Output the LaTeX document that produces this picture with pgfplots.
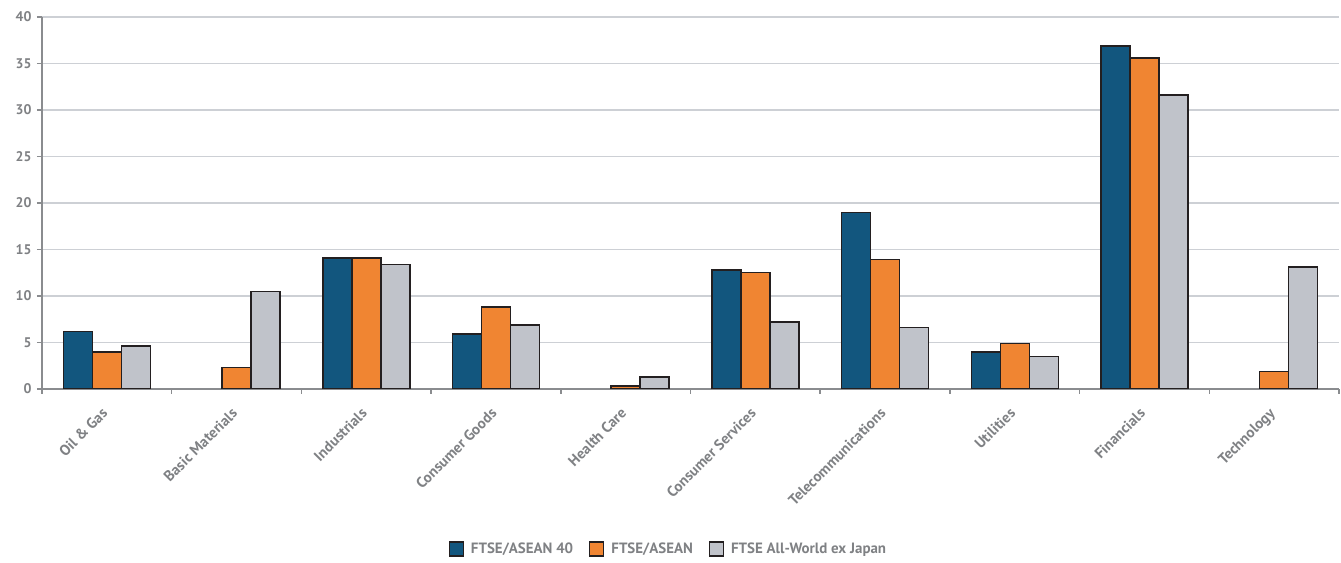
\documentclass[border=0pt]{standalone}
\usepackage{pgfplots}
\pgfplotsset{compat=1.18}
\usepackage{fontspec}
\setmainfont{PT Sans}
\definecolor{cblue}{HTML}{12567E}
\definecolor{corange}{HTML}{F08532}
\definecolor{cgray}{HTML}{C0C3CA}
\definecolor{txtgray}{HTML}{7F8184}
\definecolor{axgray}{HTML}{8A8C8F}
\definecolor{gridgray}{HTML}{CDD0D5}
\definecolor{edge}{HTML}{231F20}
\begin{document}
\begin{tikzpicture}[x=1bp,y=1bp]
\begin{axis}[
  scale only axis, width=1297bp, height=372bp,
  ymin=0, ymax=40, ytick={0,5,...,40},
  xmin=-0.5, xmax=9.5,
  xtick={0,...,9},
  xticklabels={Oil \& Gas, Basic Materials, Industrials, Consumer Goods, Health Care, Consumer Services, Telecommunications, Utilities, Financials, Technology},
  minor xtick={-0.5,0.5,...,9.5},
  major x tick style={draw=none},
  minor x tick style={axgray, line width=1.5bp},
  minor tick length=5bp,
  y tick style={axgray, line width=1.5bp},
  major tick length=5bp,
  tick align=outside,
  axis x line*=bottom, axis y line*=left,
  axis line style={axgray, line width=2bp, -},
  ymajorgrids, grid style={gridgray, line width=1.2bp},
  font=\fontsize{14}{16}\selectfont\bfseries\color{txtgray},
  /pgf/number format/assume math mode=true,
  yticklabel style={xshift=-2bp},
  xticklabel style={xshift=-6bp, yshift=-8bp, rotate=45, anchor=north east,
    font=\fontsize{15}{17}\selectfont\bfseries\color{txtgray}},
  ybar=0pt, bar width=29bp,
  every axis plot/.append style={draw=edge, line width=1.5bp},
  legend style={at={(0.483,-0.43)}, anchor=center, draw=none, fill=none,
    legend columns=3,
    /tikz/every odd column/.append style={column sep=5bp},
    /tikz/every even column/.append style={column sep=14bp},
    font=\fontsize{15}{17}\selectfont\bfseries\color{txtgray}},
  legend image code/.code={\draw[#1, line width=1.2bp] (0bp,-7bp) rectangle (14bp,7bp);},
]
\addplot[fill=cblue] coordinates {(0,6.2)(2,14.1)(3,5.9)(5,12.8)(6,19.0)(7,4.0)(8,36.9)};
\addplot[fill=corange] coordinates {(0,4.0)(1,2.3)(2,14.1)(3,8.8)(4,0.3)(5,12.5)(6,13.9)(7,4.9)(8,35.6)(9,1.9)};
\addplot[fill=cgray] coordinates {(0,4.6)(1,10.5)(2,13.4)(3,6.9)(4,1.3)(5,7.2)(6,6.6)(7,3.5)(8,31.6)(9,13.1)};
\legend{FTSE/ASEAN 40, FTSE/ASEAN, FTSE All-World ex Japan}
\end{axis}
\pgfresetboundingbox
\path ([xshift=-42bp,yshift=-174bp]current axis.south west) rectangle ([xshift=2bp,yshift=17bp]current axis.north east);
\end{tikzpicture}
\end{document}
